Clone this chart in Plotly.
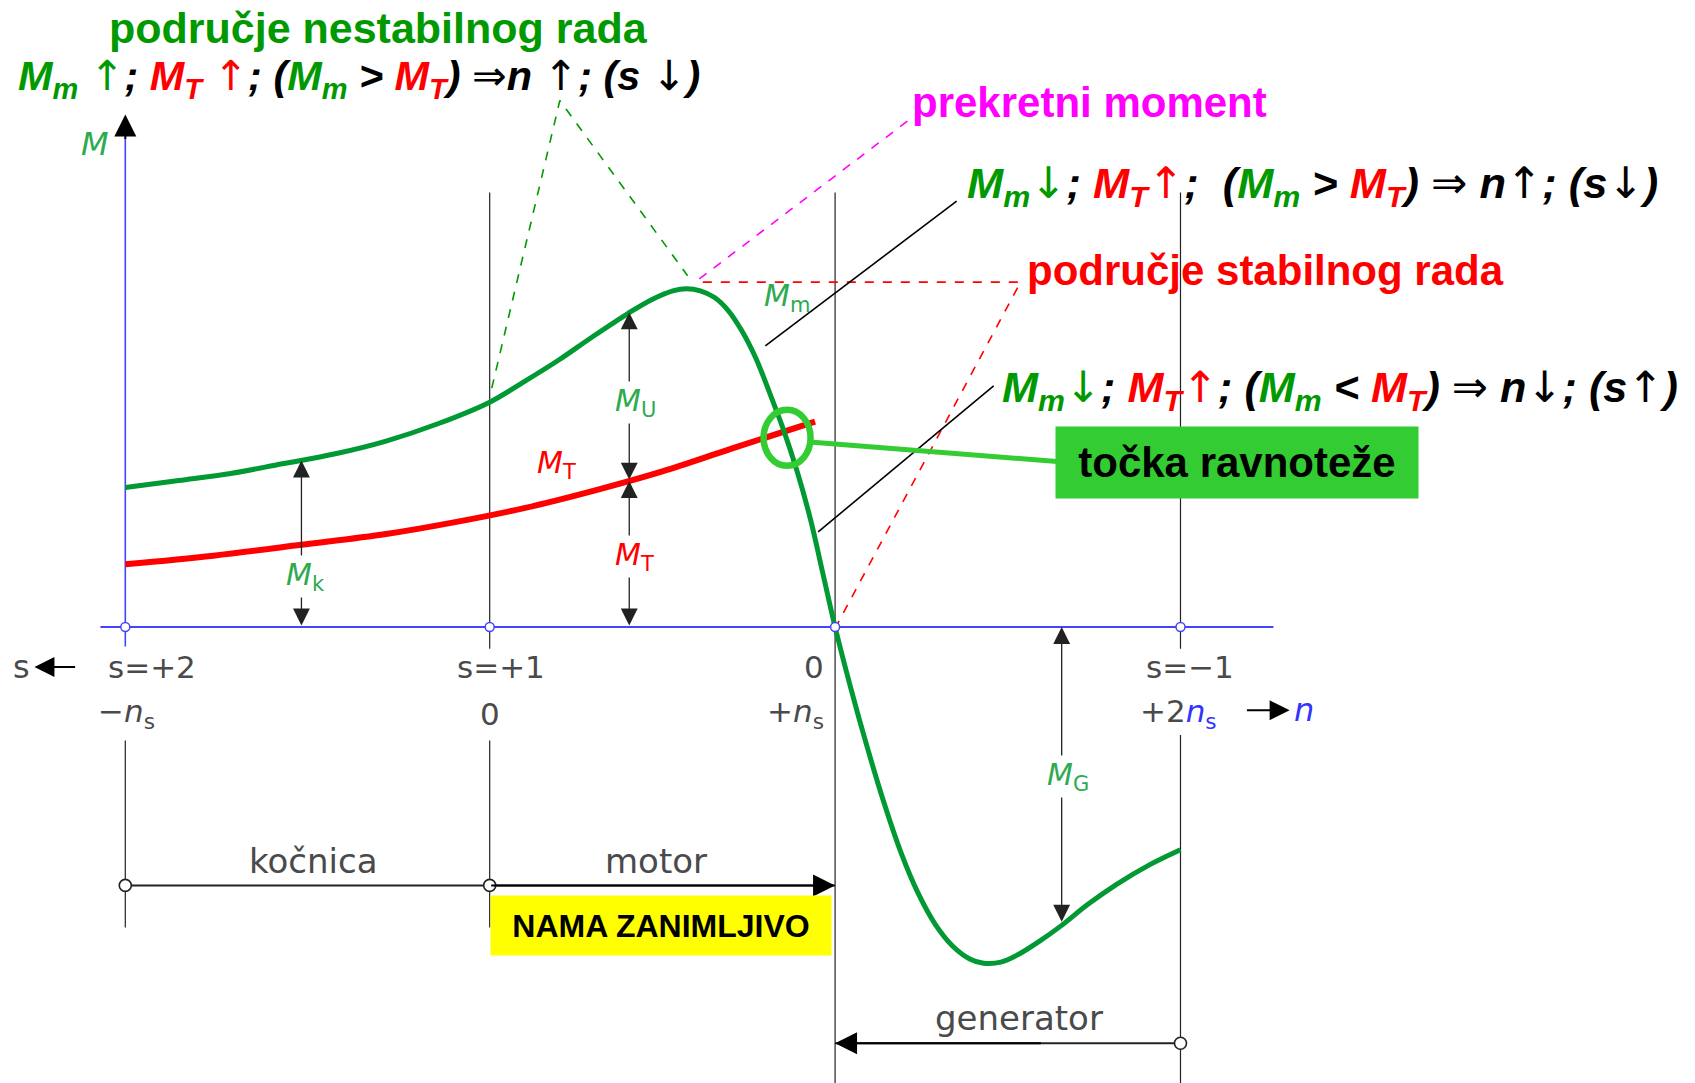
import plotly.graph_objects as go

# ---------------- data (x: n/n_s, y: torque M in arbitrary units) ----------------
mm_u = [-1.055, -0.90, -0.75, -0.60, -0.45, -0.30, -0.15, 0.0, 0.10, 0.20, 0.30, 0.40,
        0.47, 0.53, 0.57, 0.61, 0.65, 0.69, 0.73, 0.77, 0.81, 0.85, 0.89, 0.93, 0.965,
        1.0, 1.045, 1.092, 1.14, 1.19, 1.24, 1.29, 1.34, 1.39, 1.43, 1.48, 1.53, 1.59,
        1.656, 1.73, 1.815, 1.91, 2.0]
mm_M = [1.29, 1.355, 1.42, 1.51, 1.60, 1.72, 1.88, 2.08, 2.27, 2.47, 2.69, 2.90,
        3.03, 3.11, 3.13, 3.11, 3.05, 2.93, 2.74, 2.49, 2.17, 1.83, 1.44, 0.98, 0.49,
        0.0, -0.56, -1.10, -1.61, -2.08, -2.46, -2.75, -2.95, -3.07, -3.11, -3.10, -3.03, -2.91,
        -2.76, -2.57, -2.38, -2.20, -2.06]
mt_u = [-1.055, -0.80, -0.545, -0.30, -0.10, 0.10, 0.30, 0.50, 0.70, 0.942]
mt_M = [0.58, 0.66, 0.76, 0.86, 0.97, 1.10, 1.26, 1.44, 1.65, 1.90]

grid_u = [-1.055, 0.0, 1.0, 2.0]                     # s = +2, +1, 0, -1
slip_labels = ["s=+2", "s=+1", "0", "s=\u22121"]
slip_label_u = [-0.977, 0.034, 0.939, 2.028]
speed_labels = ["\u2212<i>n</i><sub>s</sub>", "0", "+<i>n</i><sub>s</sub>",
                "+2<span style='color:#3333ff'><i>n</i><sub>s</sub></span>"]
speed_label_u = [-1.052, 0.0, 0.886, 1.994]

dim_u = [-0.545, 0.404, 0.404, 1.656]
dim_top = [1.54, 2.91, 1.35, 0.0]
dim_bot = [0.0, 1.35, 0.0, -2.74]
dim_names = ["<i>M</i><sub>k</sub>", "<i>M</i><sub>U</sub>", "<i>M</i><sub>T</sub>", "<i>M</i><sub>G</sub>"]
dim_label_u = [-0.532, 0.423, 0.419, 1.674]
dim_label_M = [0.47, 2.08, 0.65, -1.38]

eq_u, eq_M = 0.861, 1.75
green_dash_u = [0.006, 0.203, 0.573]
green_dash_M = [2.21, 4.87, 3.25]
magenta_dash_u = [0.607, 1.218]
magenta_dash_M = [3.22, 4.70]
red_dash_u = [0.617, 1.537, 0.992]
red_dash_M = [3.19, 3.19, -0.06]
leader1_u, leader1_M = [0.798, 1.352], [2.60, 3.94]
leader2_u, leader2_M = [0.951, 1.459], [0.88, 2.23]
connector_u, connector_M = [0.936, 1.643], [1.71, 1.53]

row_motor_M = -2.39
row_gen_M = -3.85

# ---------------- styles ----------------
G = "#009900"
GC = "#009933"
LG = "#2eaa50"
R = "#ff0000"
MAG = "#ff00ff"
BOX_G = "#33cc33"
BLUE = "#4444ff"
INK = "#222222"
CAD = "#4a4a4a"
BF = "Liberation Sans, Arial, sans-serif"
CF = "DejaVu Sans, sans-serif"

# page has an 8px body margin, figure sized to fit inside the window
X_RANGE = [-1.3946, 3.4896]
Y_RANGE = [-4.218, 5.726]

fig = go.Figure()

def line(xs, ys, color, width, dash=None):
    fig.add_trace(go.Scatter(x=xs, y=ys, mode="lines", hoverinfo="skip",
                             line=dict(color=color, width=width, dash=dash)))

# vertical guide lines
line([grid_u[0], grid_u[0]], [-0.18, 4.52], BLUE, 1.6)
line([grid_u[0], grid_u[0]], [-1.05, -2.78], INK, 1.2)
line([grid_u[1], grid_u[1], None, grid_u[1], grid_u[1]], [4.02, -0.2, None, -1.05, -2.78], INK, 1.2)
line([grid_u[2], grid_u[2]], [4.02, -4.30], INK, 1.2)
line([grid_u[3], grid_u[3], None, grid_u[3], grid_u[3]], [4.02, -0.2, None, -1.0, -4.30], INK, 1.2)
# horizontal axis
line([-1.127, 2.269], [0, 0], BLUE, 2)
# dimension rows
line([grid_u[0], grid_u[2]], [row_motor_M, row_motor_M], INK, 2)
line([grid_u[3], grid_u[2]], [row_gen_M, row_gen_M], INK, 2)

# dashed helper lines
line(green_dash_u, green_dash_M, G, 1.6, "dash")
line(magenta_dash_u, magenta_dash_M, MAG, 1.6, "dash")
line(red_dash_u, red_dash_M, R, 1.6, "dash")
line(leader1_u, leader1_M, "#000000", 1.6)
line(leader2_u, leader2_M, "#000000", 1.6)

# curves
fig.add_trace(go.Scatter(x=mt_u, y=mt_M, mode="lines", hoverinfo="skip",
                         line=dict(color=R, width=6, shape="spline", smoothing=1.0)))
fig.add_trace(go.Scatter(x=mm_u, y=mm_M, mode="lines", hoverinfo="skip",
                         line=dict(color=GC, width=5, shape="spline", smoothing=1.0)))
line(connector_u, connector_M, BOX_G, 5)

# axis point markers
fig.add_trace(go.Scatter(x=grid_u, y=[0] * 4, mode="markers", hoverinfo="skip",
                         marker=dict(symbol="circle", size=9, color="white",
                                     line=dict(color=BLUE, width=1.5))))
fig.add_trace(go.Scatter(x=[grid_u[0], grid_u[1], grid_u[3]],
                         y=[row_motor_M, row_motor_M, row_gen_M], mode="markers", hoverinfo="skip",
                         marker=dict(symbol="circle", size=12, color="white",
                                     line=dict(color=INK, width=1.6))))

# equilibrium ring
rx, ry = 0.068, 0.259
fig.add_shape(type="circle", xref="x", yref="y", x0=eq_u - rx, x1=eq_u + rx,
              y0=eq_M - ry, y1=eq_M + ry, line=dict(color=BOX_G, width=6.5))

ann = []

def arrow(x, y, ax, ay, width=1.3, size=1.6, both=False, color=INK):
    d = dict(x=x, y=y, ax=ax, ay=ay, xref="x", yref="y", axref="x", ayref="y", text="",
             showarrow=True, arrowhead=2, arrowsize=size, arrowwidth=width, arrowcolor=color,
             standoff=0)
    if both:
        d.update(arrowside="end+start", startarrowhead=2, startarrowsize=size, startstandoff=0)
    ann.append(d)

def text(x, y, t, size, color, family=BF, xanchor="center", yanchor="middle", **kw):
    ann.append(dict(x=x, y=y, xref="x", yref="y", text=t, showarrow=False,
                    xanchor=xanchor, yanchor=yanchor,
                    font=dict(family=family, size=size, color=color), **kw))

# dimension arrows
for u, t, b in zip(dim_u, dim_top, dim_bot):
    arrow(u, t, u, b, width=1.3, size=2.6, both=True)

for i, (u, m, nm) in enumerate(zip(dim_label_u, dim_label_M, dim_names)):
    text(u, m, nm, 30, R if i == 2 else LG, family=CF, bgcolor="white")
text(0.194, 1.50, "<i>M</i><sub>T</sub>", 30, R, family=CF)
text(0.861, 3.05, "<i>M</i><sub>m</sub>", 30, LG, family=CF)
text(-1.142, 4.47, "<i>M</i>", 32, LG, family=CF)

# axis arrows
arrow(grid_u[0], 4.74, grid_u[0], 4.50, width=2, size=2.2, color="#000000")
arrow(-1.318, -0.37, -1.196, -0.37, width=2, size=2.0, color="#000000")
arrow(2.316, -0.77, 2.188, -0.77, width=2, size=2.0, color="#000000")
arrow(grid_u[2], row_motor_M, grid_u[1], row_motor_M, width=2, size=2.2, color="#000000")
arrow(grid_u[2], row_gen_M, 1.6, row_gen_M, width=2, size=2.2, color="#000000")

# axis labels
text(-1.355, -0.37, "s", 32, CAD, family=CF)
text(2.357, -0.77, "<i>n</i>", 32, "#3333ff", family=CF)
for u, t in zip(slip_label_u, slip_labels):
    text(u, -0.37, t, 31, CAD, family=CF)
for u, t in zip(speed_label_u, speed_labels):
    text(u, -0.80, t, 31, CAD, family=CF)
text(-0.510, -2.16, "kočnica", 34, CAD, family=CF)
text(0.482, -2.16, "motor", 34, CAD, family=CF)
text(1.531, -3.62, "generator", 34, CAD, family=CF)

# boxes
text(0.496, -2.765, "<b>NAMA ZANIMLJIVO</b>", 32, "#000000", bgcolor="#ffff00",
     width=340, height=59, borderpad=0)
text(2.164, 1.52, "<b>točka ravnoteže</b>", 42, "#000000", bgcolor=BOX_G,
     width=362, height=71, borderpad=0)

# titles
text(-0.322, 5.54, "<b>područje nestabilnog rada</b>", 43, G)
text(1.218, 4.85, "<b>prekretni moment</b>", 42, MAG, xanchor="left")
text(1.549, 3.30, "<b>područje stabilnog rada</b>", 42, R, xanchor="left")

def thin(s):
    return f'<span style="font-family:DejaVu Sans;font-weight:normal;font-style:normal">{s}</span>'

def g(s):
    return f"<span style='color:{G}'>{s}</span>"

def r(s):
    return f"<span style='color:{R}'>{s}</span>"

F1 = (f"{g('M<sub>m</sub> ' + thin('↑'))}; {r('M<sub>T</sub> ' + thin('↑'))}; "
      f"({g('M<sub>m</sub>')} &gt; {r('M<sub>T</sub>')}) {thin('⇒')}n {thin('↑')}; (s {thin('↓')})")
F2 = (f"{g('M<sub>m</sub>' + thin('↓'))}; {r('M<sub>T</sub>' + thin('↑'))};&nbsp; "
      f"({g('M<sub>m</sub>')} &gt; {r('M<sub>T</sub>')}) {thin('⇒')} n{thin('↑')}; (s{thin('↓')})")
F3 = (f"{g('M<sub>m</sub>' + thin('↓'))}; {r('M<sub>T</sub>' + thin('↑'))}; "
      f"({g('M<sub>m</sub>')} &lt; {r('M<sub>T</sub>')}) {thin('⇒')} n{thin('↓')}; (s{thin('↑')})")
text(-1.371, 5.07, f"<b><i>{F1}</i></b>", 41.4, "#000000", xanchor="left")
text(1.377, 4.08, f"<b><i>{F2}</i></b>", 43.4, "#000000", xanchor="left")
text(1.477, 2.20, f"<b><i>{F3}</i></b>", 43.2, "#000000", xanchor="left")

fig.update_layout(
    width=1687, height=1075, margin=dict(l=0, r=0, t=0, b=0),
    paper_bgcolor="white", plot_bgcolor="white", showlegend=False,
    xaxis=dict(range=X_RANGE, visible=False, fixedrange=True),
    yaxis=dict(range=Y_RANGE, visible=False, fixedrange=True),
    annotations=ann,
)
fig.write_html("out.html")
